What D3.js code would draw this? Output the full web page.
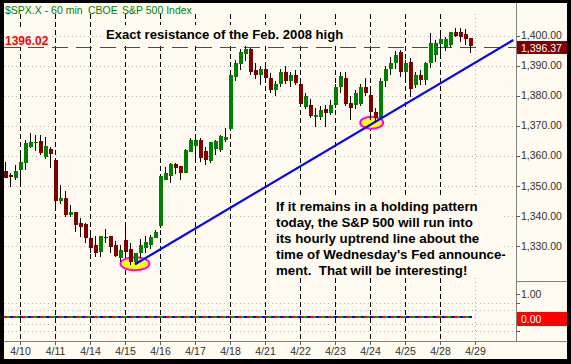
<!DOCTYPE html>
<html><head><meta charset="utf-8">
<script src="https://cdn.jsdelivr.net/npm/d3@7"></script>
<style>html,body{margin:0;padding:0;background:#000;}svg{display:block;}</style>
</head><body>
<script>
const days = ["4/10","4/11","4/14","4/15","4/16","4/17","4/18","4/21","4/22","4/23","4/24","4/25","4/28","4/29"];
const barsPerDay = 7;
const firstBarIndex = -3;
const opens  = [1354.9,1353.5,1352.6, 1355.2,1357.6,1363.0,1364.3,1364.9,1359.6,1362.2, 1358.5,1344.9,1346.0,1340.2,1341.3,1337.5,1337.2, 1332.7,1330.2,1328.0,1333.0,1333.2,1330.2,1326.0, 1331.9,1328.9,1324.5,1327.5,1329.3,1330.5,1332.7, 1336.6,1352.1,1353.0,1357.2,1356.5,1354.3,1361.3, 1363.2,1365.2,1361.6,1358.3,1362.1,1361.9,1365.2, 1368.8,1386.5,1390.5,1393.8,1395.5,1388.5,1387.0, 1389.0,1386.0,1382.0,1384.0,1388.0,1385.0,1387.0, 1384.0,1376.2,1376.9,1373.0,1372.9,1375.5,1374.2, 1376.9,1383.0,1386.0,1377.5,1376.9,1377.5,1383.0, 1380.2,1374.5,1373.0,1385.0,1389.0,1391.0,1394.6, 1387.9,1391.3,1383.5,1386.8,1385.2,1390.8,1393.5, 1397.2,1396.2,1396.8,1401.2,1401.0,1400.5,1399.1];
const highs  = [1358.0,1354.3,1356.9, 1360.2,1365.2,1367.6,1366.9,1366.9,1366.3,1363.0, 1358.5,1350.2,1348.2,1343.6,1341.3,1339.1,1337.5, 1334.7,1333.2,1333.2,1335.5,1333.2,1331.7,1330.2, 1338.0,1330.8,1327.7,1332.1,1333.2,1333.6,1335.2, 1353.5,1356.3,1357.6,1357.6,1356.6,1362.1,1366.0, 1366.0,1365.8,1363.0,1364.6,1365.2,1366.9,1369.1, 1387.8,1392.0,1395.5,1396.5,1396.0,1391.0,1390.0, 1391.0,1387.5,1385.0,1389.0,1390.0,1388.0,1388.5, 1386.0,1381.0,1379.0,1375.9,1376.5,1377.0,1378.5, 1384.0,1388.0,1388.0,1380.0,1382.0,1384.0,1386.0, 1382.0,1376.0,1386.0,1390.0,1393.0,1395.0,1395.2, 1392.0,1392.5,1387.9,1388.5,1391.3,1400.7,1398.5, 1400.7,1399.5,1401.2,1402.4,1402.4,1402.1,1399.1];
const lows   = [1352.5,1349.6,1351.9, 1349.6,1355.2,1362.4,1361.6,1360.2,1358.9,1355.8, 1341.7,1343.9,1339.7,1339.7,1334.7,1333.0,1330.8, 1327.7,1326.3,1326.1,1331.0,1327.7,1326.3,1324.7, 1325.8,1323.6,1323.6,1325.8,1327.7,1328.8,1332.5, 1336.0,1351.9,1351.0,1353.9,1351.9,1354.1,1361.3, 1357.6,1358.0,1356.9,1357.4,1360.2,1361.3,1364.6, 1368.2,1385.0,1388.5,1391.5,1387.0,1385.5,1383.5, 1385.0,1381.0,1380.0,1383.0,1384.0,1383.0,1383.5, 1376.5,1375.5,1372.5,1369.5,1372.0,1369.5,1373.5, 1376.0,1381.0,1376.5,1371.9,1375.5,1376.5,1380.0, 1371.9,1371.0,1372.0,1383.0,1387.0,1389.0,1386.3, 1386.0,1379.5,1382.4,1383.5,1383.5,1389.2,1391.3, 1393.5,1395.0,1396.3,1399.6,1397.9,1396.8,1394.2];
const closes = [1352.6,1352.8,1354.9, 1358.0,1364.1,1364.6,1364.6,1360.8,1363.2,1360.5, 1344.7,1346.0,1340.2,1341.3,1336.9,1336.3,1332.7, 1329.3,1327.5,1333.2,1332.7,1329.7,1326.6,1328.6, 1328.0,1324.7,1327.5,1330.2,1331.3,1333.0,1334.7, 1353.2,1354.3,1357.1,1356.0,1354.3,1361.9,1365.2, 1365.2,1359.2,1358.5,1364.6,1364.9,1366.5,1366.2, 1386.8,1391.0,1394.6,1395.5,1388.0,1387.0,1389.0, 1386.0,1382.0,1384.0,1388.0,1385.0,1387.0,1384.5, 1377.2,1380.0,1373.2,1373.5,1375.2,1374.2,1376.9, 1383.0,1386.5,1377.5,1376.0,1381.0,1383.0,1381.0, 1374.5,1372.5,1385.0,1389.0,1391.0,1393.5,1387.9, 1391.0,1382.4,1386.8,1385.2,1390.8,1397.5,1397.5, 1398.8,1398.8,1401.2,1399.8,1399.5,1398.8,1396.37];
const priceTicks = [1330,1340,1350,1360,1370,1380,1390,1400];
const resistance = 1396.02;
const lastPrice = 1396.37;
const trendline = [[23, 1323.8],[98.66, 1398.5]];
const touchPoints = [[23, 1324.0],[70.34, 1370.96]];
const indicatorGrid = [0.6, 0.3, -0.3, -0.6];
const indicatorValue = 0.00;
const title = ["$SPX.X - 60 min", "CBOE", "S&P 500 Index"];
const headline = "Exact resistance of the Feb. 2008 high";
const note = ["If it remains in a holding pattern","today, the S&P 500 will run into","its hourly uptrend line about the","time of Wednesday's Fed announce-","ment.  That will be interesting!"];

const W = 571, H = 364;
const FONT = "'Liberation Sans', Arial, sans-serif";
const svg = d3.select("body").append("svg").attr("width", W).attr("height", H);
svg.append("rect").attr("width", W).attr("height", H).attr("fill", "#000");
svg.append("rect").attr("x", 4).attr("y", 3).attr("width", 563).attr("height", 356).attr("fill", "#fffbf0");

const x = d3.scaleLinear().domain([0, 91]).range([20, 475]);
const y = d3.scaleLinear().domain([1330, 1400]).range([245.7, 35.5]);
const yi = d3.scaleLinear().domain([0, 1]).range([317, 294]);
const plotL = 4, plotR = 516, plotT = 14, axisY = 341;

const grid = svg.append("g").attr("shape-rendering", "crispEdges");
grid.selectAll(".hg").data(priceTicks).join("line")
  .attr("x1", plotL).attr("x2", plotR)
  .attr("y1", d => Math.round(y(d)) + 0.5).attr("y2", d => Math.round(y(d)) + 0.5)
  .attr("stroke", "#b8b8b8").attr("stroke-dasharray", "1,3");
grid.selectAll(".ig").data(indicatorGrid).join("line")
  .attr("x1", plotL).attr("x2", plotR)
  .attr("y1", d => Math.round(yi(d)) + 0.5).attr("y2", d => Math.round(yi(d)) + 0.5)
  .attr("stroke", "#b8b8b8").attr("stroke-dasharray", "1,3");
grid.selectAll(".vg").data(days).join("line")
  .attr("x1", (d, i) => Math.round(x(i * barsPerDay)) + 0.5)
  .attr("x2", (d, i) => Math.round(x(i * barsPerDay)) + 0.5)
  .attr("y1", plotT).attr("y2", axisY)
  .attr("stroke", (d, i) => i === days.length - 1 ? "#b0b0b0" : "#000")
  .attr("stroke-dasharray", (d, i) => i === days.length - 1 ? "1,3" : "5,3");

svg.append("line").attr("x1", plotL).attr("x2", plotR)
  .attr("y1", Math.round(y(resistance)) + 0.5).attr("y2", Math.round(y(resistance)) + 0.5)
  .attr("stroke", "#ff0000").attr("stroke-width", 1.3).attr("stroke-dasharray", "16,8")
  .attr("shape-rendering", "crispEdges");

svg.selectAll(".touch").data(touchPoints).join("ellipse")
  .attr("cx", d => x(d[0])).attr("cy", d => y(d[1]))
  .attr("rx", (d, i) => i === 0 ? 14.5 : 11.5).attr("ry", (d, i) => i === 0 ? 6.5 : 6)
  .attr("fill", "#ffff00").attr("stroke", "#ff00ff").attr("stroke-width", 2);

const bars = opens.map((o, k) => ({i: firstBarIndex + k, o, h: highs[k], l: lows[k], c: closes[k]}));
const cg = svg.append("g").attr("shape-rendering", "crispEdges");
cg.selectAll(".wick").data(bars).join("line")
  .attr("x1", d => Math.round(x(d.i)) + 0.5).attr("x2", d => Math.round(x(d.i)) + 0.5)
  .attr("y1", d => Math.round(y(d.h))).attr("y2", d => Math.round(y(d.l)))
  .attr("stroke", "#000");
cg.selectAll(".body").data(bars).join("rect")
  .attr("x", d => Math.round(x(d.i)) - 1.5)
  .attr("width", 4)
  .attr("y", d => Math.round(y(Math.max(d.o, d.c))))
  .attr("height", d => Math.max(1, Math.round(Math.abs(y(d.o) - y(d.c)))))
  .attr("fill", d => d.c >= d.o ? "#008000" : "#800000");

svg.append("line")
  .attr("x1", x(trendline[0][0])).attr("y1", y(trendline[0][1]))
  .attr("x2", x(trendline[1][0])).attr("y2", y(trendline[1][1]))
  .attr("stroke", "#0000ff").attr("stroke-width", 2.2);

const zl = svg.append("g").attr("shape-rendering", "crispEdges");
const zy = Math.round(yi(indicatorValue));
[["#ff0000", 0], ["#00a000", 3], ["#0000ff", 6]].forEach(([col, off]) => {
  zl.append("line").attr("x1", plotL).attr("x2", x(90) + 2).attr("y1", zy).attr("y2", zy)
    .attr("stroke", col).attr("stroke-width", 2).attr("stroke-dasharray", "3,6").attr("stroke-dashoffset", -off);
});

const ax = svg.append("g").attr("shape-rendering", "crispEdges");
ax.append("line").attr("x1", plotR + 0.5).attr("x2", plotR + 0.5).attr("y1", 3).attr("y2", axisY).attr("stroke", "#808080");
ax.append("line").attr("x1", plotL).attr("x2", 567).attr("y1", axisY + 0.5).attr("y2", axisY + 0.5).attr("stroke", "#808080");
ax.append("line").attr("x1", plotR).attr("x2", 567).attr("y1", 281.5).attr("y2", 281.5).attr("stroke", "#808080");

const yAxis = d3.axisRight(y).tickValues(priceTicks).tickSize(4).tickFormat(d3.format(",.2f"));
const ya = svg.append("g").attr("transform", `translate(${plotR},0)`).call(yAxis);
ya.select(".domain").remove();
ya.selectAll("line").attr("stroke", "#606060").attr("shape-rendering", "crispEdges");
ya.selectAll("text").attr("x", 5).attr("fill", "#303030").style("font", `10.5px ${FONT}`);

const yiAxis = d3.axisRight(yi).tickValues([1.0, 0.6, -0.6]).tickSize(4).tickFormat(d => d === 1 ? d3.format(".2f")(d) : "");
const yia = svg.append("g").attr("transform", `translate(${plotR},0)`).call(yiAxis);
yia.select(".domain").remove();
yia.selectAll("line").attr("stroke", "#606060").attr("shape-rendering", "crispEdges");
yia.selectAll("text").attr("x", 5).attr("fill", "#303030").style("font", `10.5px ${FONT}`);

svg.append("rect").attr("x", plotR + 1).attr("y", Math.round(y(lastPrice)) - 5).attr("width", 50).attr("height", 13).attr("fill", "#800000");
svg.append("text").attr("x", plotR + 5).attr("y", Math.round(y(lastPrice)) + 5.5).attr("fill", "#fff")
  .style("font", `10.5px ${FONT}`).text(d3.format(",.2f")(lastPrice));
svg.append("rect").attr("x", plotR + 1).attr("y", Math.round(yi(indicatorValue)) - 5).attr("width", 50).attr("height", 14).attr("fill", "#ff0000");
svg.append("text").attr("x", plotR + 5).attr("y", Math.round(yi(indicatorValue)) + 6).attr("fill", "#fff")
  .style("font", `10.5px ${FONT}`).text(d3.format(".2f")(indicatorValue));

const xAxis = d3.axisBottom(x).tickValues(days.map((d, i) => i * barsPerDay)).tickSize(4)
  .tickFormat((d, i) => days[i]);
const xa = svg.append("g").attr("transform", `translate(0,${axisY})`).call(xAxis);
xa.select(".domain").remove();
xa.selectAll("line").attr("stroke", "#606060").attr("shape-rendering", "crispEdges");
xa.selectAll("text").attr("y", 7).attr("fill", "#303030").style("font", `10.5px ${FONT}`);

const tx = [5, 88, 122];
svg.selectAll(".title").data(title).join("text")
  .attr("x", (d, i) => tx[i]).attr("y", 14).attr("fill", "#008000")
  .style("font", `10.5px ${FONT}`).text(d => d);

svg.append("rect").attr("x", 5).attr("y", 29).attr("width", 46).attr("height", 18).attr("fill", "#fffbf0");
svg.append("text").attr("x", 5).attr("y", 45).attr("fill", "#ff0000")
  .style("font", `bold 12px ${FONT}`).text(d3.format(".2f")(resistance));

svg.append("rect").attr("x", 103).attr("y", 25).attr("width", 243).attr("height", 19).attr("fill", "#fffbf0");
svg.append("text").attr("x", 106).attr("y", 39).attr("fill", "#000")
  .style("font", `bold 13.1px ${FONT}`).text(headline);

svg.append("rect").attr("x", 272).attr("y", 196).attr("width", 232).attr("height", 82).attr("fill", "#fffbf0");
svg.selectAll(".note").data(note).join("text")
  .attr("x", 276).attr("y", (d, i) => 211.3 + i * 15.8).attr("fill", "#000")
  .style("white-space", "pre")
  .style("font", `bold 13.3px ${FONT}`).text(d => d);
</script>
</body></html>
